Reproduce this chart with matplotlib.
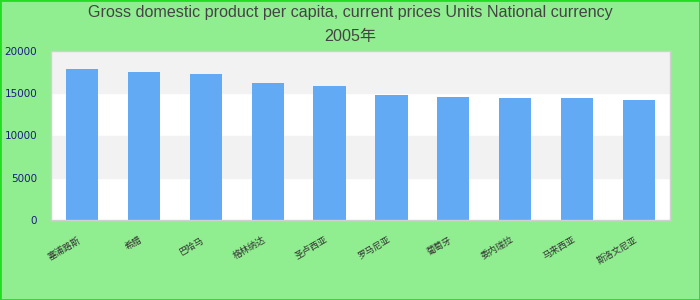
import matplotlib
matplotlib.use("Agg")
import matplotlib.pyplot as plt
from matplotlib.patches import Rectangle

categories = ["塞浦路斯", "希腊", "巴哈马", "格林纳达", "圣卢西亚",
              "罗马尼亚", "葡萄牙", "委内瑞拉", "马来西亚", "斯洛文尼亚"]
values = [17900, 17550, 17300, 16250, 15800, 14850, 14500, 14480, 14380, 14250]
yticks = [0, 5000, 10000, 15000, 20000]
title_line1 = "Gross domestic product per capita, current prices Units National currency"
title_line2 = "2005年"

fig = plt.figure(figsize=(7, 3), dpi=100)
fig.patch.set_facecolor("#90ee90")
fig.patches.append(Rectangle((0, 0), 1, 1, transform=fig.transFigure,
                             fill=False, edgecolor="#22dd22", linewidth=2))

ax = fig.add_axes([51/700, 80/300, 619/700, 169/300])
ax.set_facecolor("white")
# alternating bands
for i in range(len(yticks) - 1):
    if i % 2 == 1:
        ax.axhspan(yticks[i], yticks[i+1], color="#f2f2f2", zorder=0)

x = range(len(categories))
ax.bar(x, values, width=0.52, color="#62aaf4", zorder=2)
ax.set_xlim(-0.5, len(categories) - 0.5)
ax.set_ylim(0, 20000)
ax.set_yticks(yticks)
ax.set_yticklabels([str(v) for v in yticks], color="#1c1c80", fontsize=7.5,
                   family="DejaVu Sans")
ax.tick_params(axis="y", length=0, pad=10)
ax.set_xticks(list(x))
ax.set_xticklabels(categories, rotation=30, ha="right", fontsize=6.5,
                   family=["Noto Sans CJK SC", "DejaVu Sans"], color="#333333")
ax.tick_params(axis="x", length=0, pad=11)
for s in ax.spines.values():
    s.set_color("#d0d0d0")
    s.set_linewidth(1)

fig.text(0.5, 1 - 13/300, title_line1, ha="center", va="center", fontsize=11.6,
         color="#444444", family=["Liberation Sans", "Noto Sans CJK SC"])
fig.text(0.5, 1 - 36/300, title_line2, ha="center", va="center", fontsize=11.6,
         color="#444444", family=["Liberation Sans", "Noto Sans CJK SC"])

fig.savefig("out.png", dpi=100, facecolor=fig.get_facecolor())
